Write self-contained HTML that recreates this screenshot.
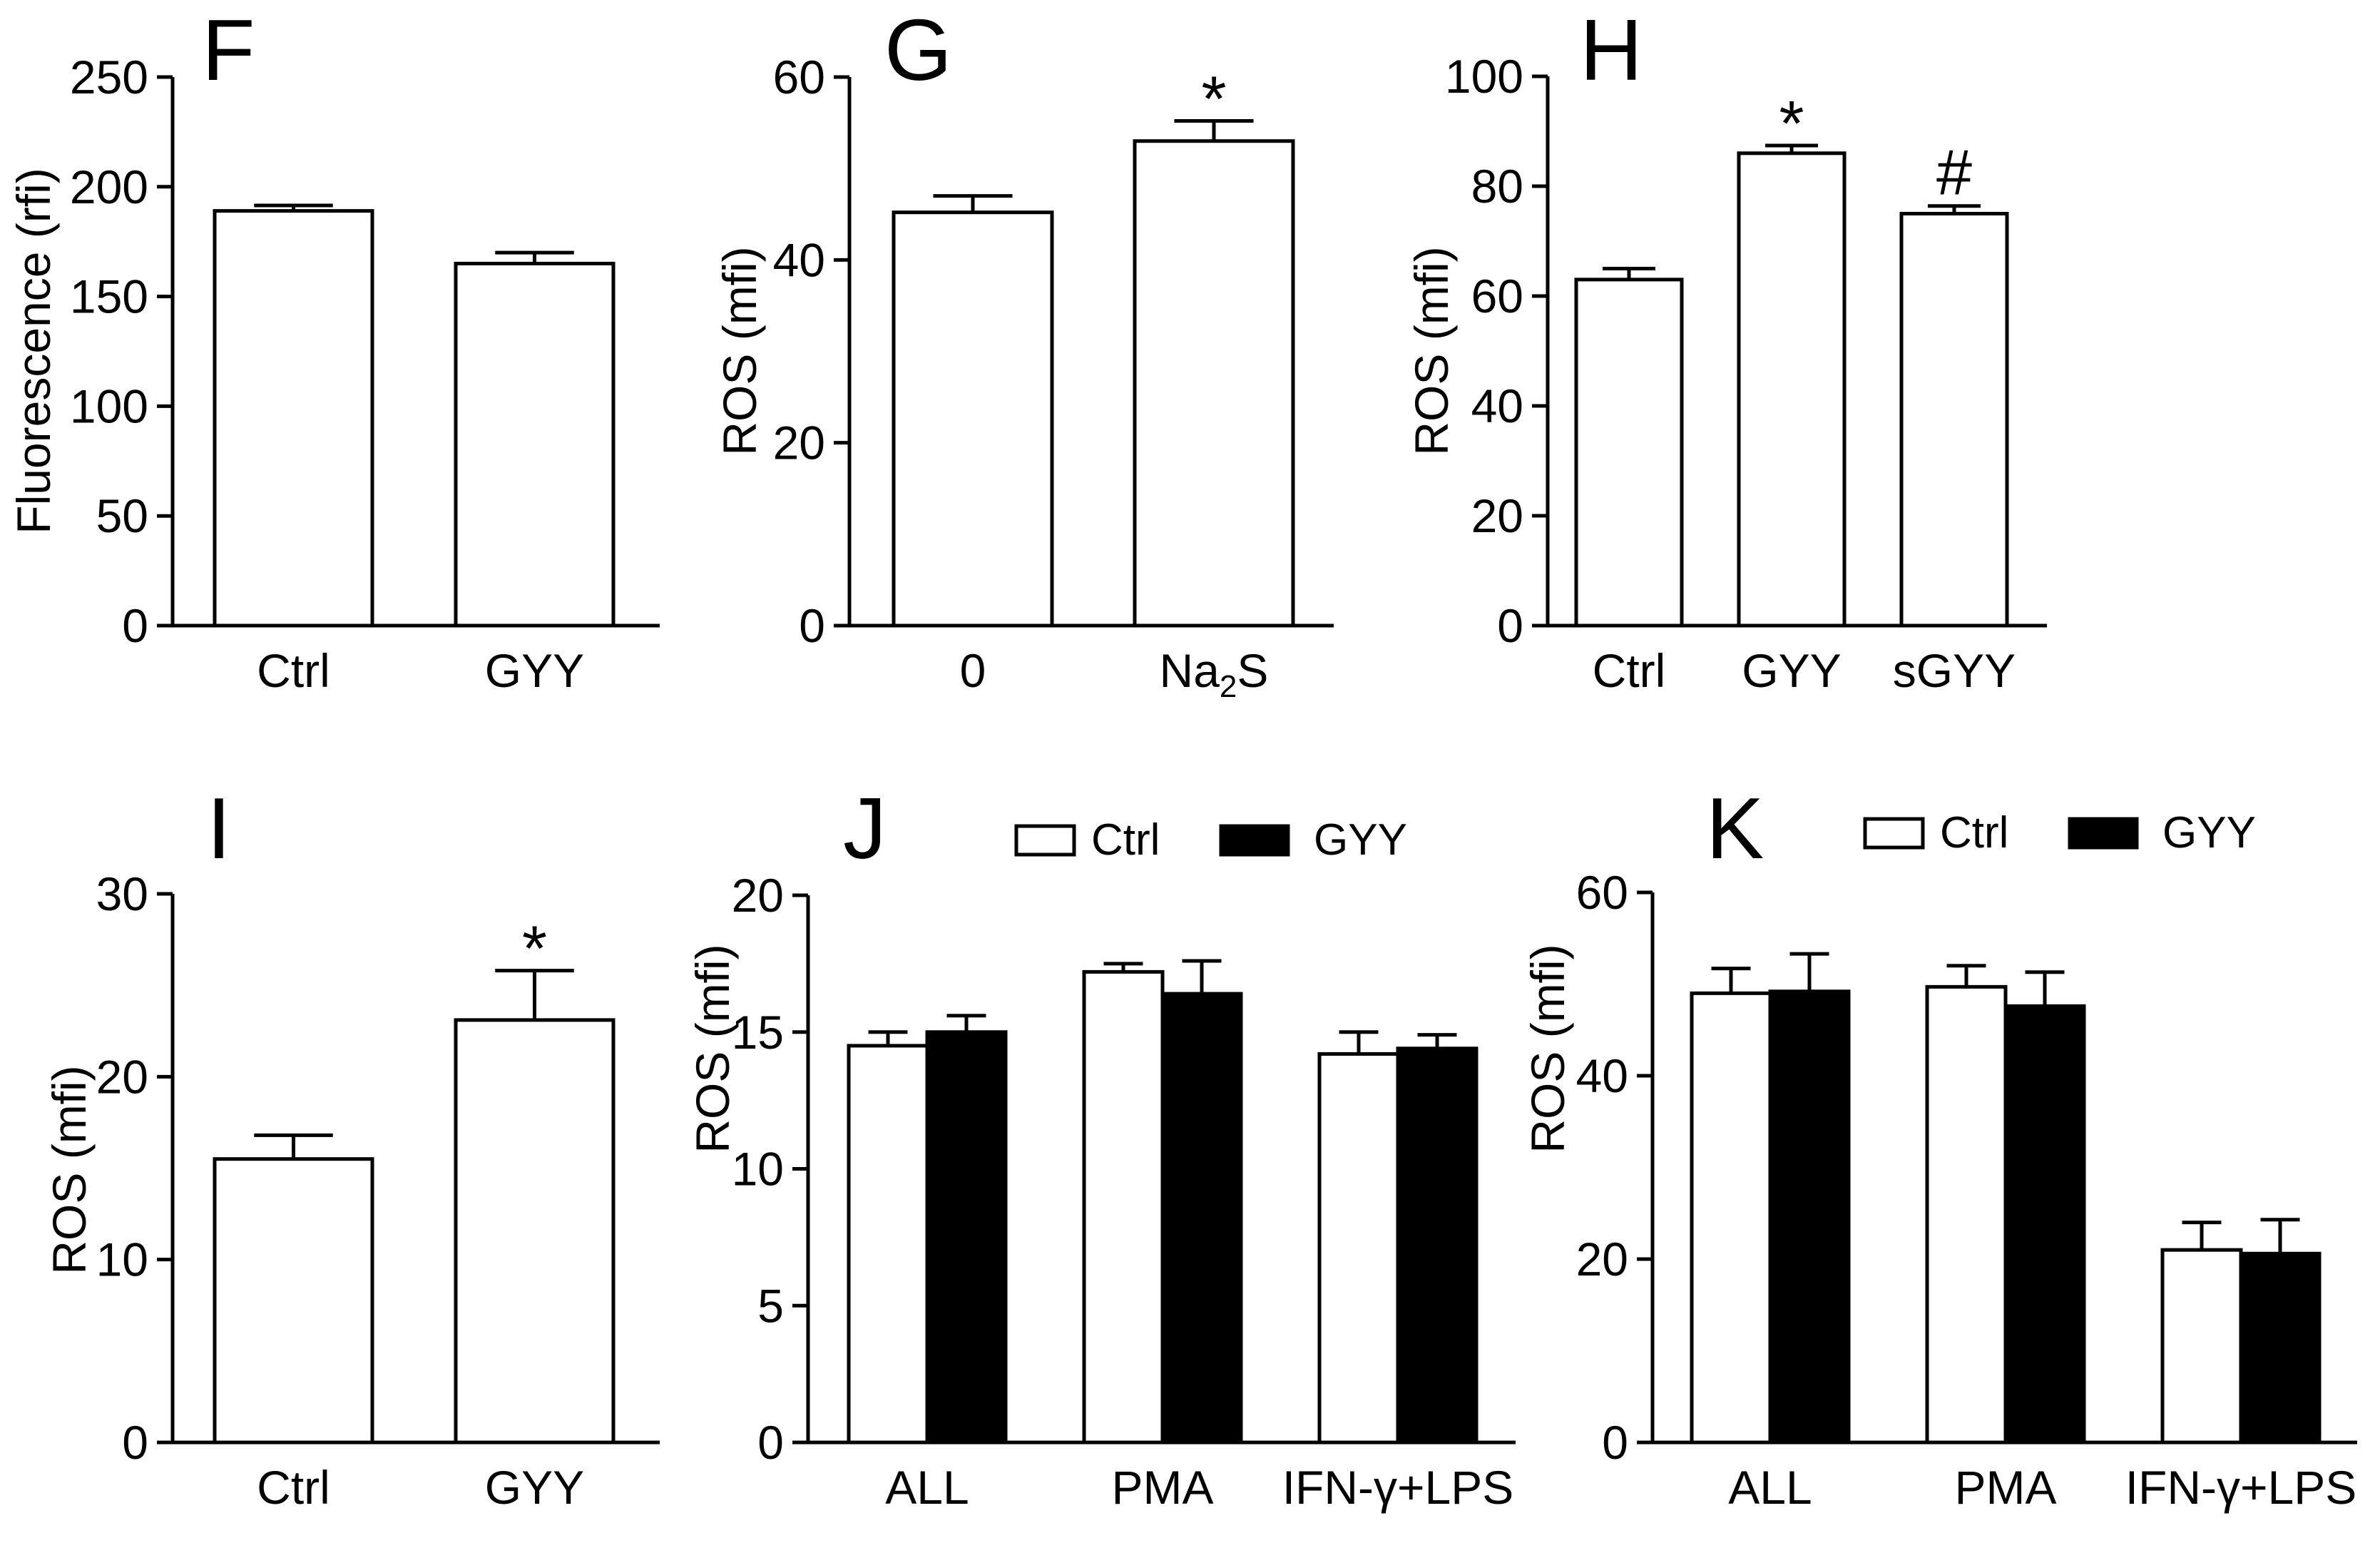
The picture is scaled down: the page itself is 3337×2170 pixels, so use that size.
<!DOCTYPE html>
<html><head><meta charset="utf-8"><style>
html,body{margin:0;padding:0;background:#fff;}
svg text{font-family:"Liberation Sans",Arial,sans-serif;fill:#000;}
</style></head><body>
<svg id="fig" xmlns="http://www.w3.org/2000/svg" width="3337" height="2165" viewBox="0 0 3337 2165"></svg>
<script>
// ---- data ----
const fCats = ["Ctrl","GYY"];
const fVals = [189,165];
const fErrs = [2.5,5];
const fTicks = [0,50,100,150,200,250];

const gCats = ["0","Na2S"];
const gVals = [45.2,53];
const gErrs = [1.8,2.2];
const gTicks = [0,20,40,60];

const hCats = ["Ctrl","GYY","sGYY"];
const hVals = [63,86,75];
const hErrs = [2,1.4,1.4];
const hTicks = [0,20,40,60,80,100];

const iCats = ["Ctrl","GYY"];
const iVals = [15.5,23.1];
const iErrs = [1.3,2.7];
const iTicks = [0,10,20,30];

const jCats = ["ALL","PMA","IFN-γ+LPS"];
const jCtrl = [14.5,17.2,14.2];
const jCtrlErr = [0.5,0.3,0.8];
const jGyy = [15,16.4,14.4];
const jGyyErr = [0.6,1.2,0.5];
const jTicks = [0,5,10,15,20];

const kCats = ["ALL","PMA","IFN-γ+LPS"];
const kCtrl = [49,49.7,21];
const kCtrlErr = [2.7,2.3,3];
const kGyy = [49.2,47.6,20.6];
const kGyyErr = [4.1,3.7,3.7];
const kTicks = [0,20,40,60];

const svg = document.getElementById('fig');
const NS = 'http://www.w3.org/2000/svg';
function mk(tag, attrs, parent){
  const e = document.createElementNS(NS, tag);
  for (const k in attrs) e.setAttribute(k, attrs[k]);
  (parent||svg).appendChild(e);
  return e;
}
const SW = 5;

function panel(o){
  const g = mk('g', {});
  
  
  const ymax = o.ticks[o.ticks.length-1];
  const y = v => o.y0 - (v/ymax)*(o.y0-o.y1);
  const ya = mk('line',{x1:o.ax,y1:o.y1,x2:o.ax,y2:o.y0,stroke:'#000','stroke-width':SW},g);
  
  
  const xa = mk('line',{x1:o.ax-22,y1:o.y0,x2:o.axEnd,y2:o.y0,stroke:'#000','stroke-width':SW},g);
  
  
  o.ticks.forEach(t=>{
    const tl = mk('line',{x1:o.ax-22,y1:y(t),x2:o.ax,y2:y(t),stroke:'#000','stroke-width':SW},g);
    
    
    const tx = mk('text',{x:o.ax-34,y:y(t)+23,'font-size':66,'text-anchor':'end'},g);
    tx.textContent = t;
    
    
  });
  o.series.forEach((s,si)=>{
    s.vals.forEach((v,i)=>{
      const bx = o.bx0 + i*o.step + si*o.bw;
      const r = mk('rect',{x:bx,y:y(v),width:o.bw,height:o.y0-y(v),fill:s.fill,stroke:'#000','stroke-width':SW},g);
      
      
      const cx = bx + o.bw/2, top = y(v+s.errs[i]);
      const e1 = mk('line',{x1:cx,y1:y(v),x2:cx,y2:top,stroke:'#000','stroke-width':SW},g);
      
      
      const e2 = mk('line',{x1:cx-o.bw/4,y1:top,x2:cx+o.bw/4,y2:top,stroke:'#000','stroke-width':SW},g);
      
      
    });
  });
  o.cats.forEach((c,i)=>{
    const cx = o.bx0 + i*o.step + o.series.length*o.bw/2;
    const t = mk('text',{x:cx,y:o.labY,'font-size':66,'text-anchor':'middle'},g);
    if (c === 'Na2S'){ t.innerHTML = 'Na<tspan font-size="44" dy="14">2</tspan><tspan dy="-14">S</tspan>'; }
    else t.textContent = c;
    
    
  });
  const yt = mk('text',{x:0,y:0,'font-size':66,'text-anchor':'middle',transform:`translate(${o.titleX},${o.titleY}) rotate(-90)`},g);
  yt.textContent = o.title;
  
  
  const pl = mk('text',{x:o.letterX,y:o.letterY,'font-size':122},g);
  pl.textContent = o.letter;
  
  
  (o.marks||[]).forEach(m=>{
    const mt = mk('text',{x:o.bx0+m.i*o.step+o.bw/2,y:y(o.series[0].vals[m.i]+o.series[0].errs[m.i])-m.off,'font-size':90,'text-anchor':'middle'},g);
    mt.textContent = m.t;
    
    
  });
  return g;
}

panel({name:'panel-f',letter:'F',letterX:283,letterY:112,ax:242,axEnd:925,y0:877,y1:108,ticks:fTicks,bx0:301,step:338,bw:221,
  cats:fCats,series:[{key:'value',vals:fVals,errs:fErrs,fill:'#fff'}],labY:963,title:'Fluorescence (rfi)',titleX:70,titleY:492});
panel({name:'panel-g',letter:'G',letterX:1240,letterY:112,ax:1191,axEnd:1870,y0:877,y1:108,ticks:gTicks,bx0:1253,step:338,bw:222,
  cats:gCats,series:[{key:'value',vals:gVals,errs:gErrs,fill:'#fff'}],labY:963,title:'ROS (mfi)',titleX:1060,titleY:492,
  marks:[{i:1,t:'*',off:0}]});
panel({name:'panel-h',letter:'H',letterX:2215,letterY:112,ax:2170,axEnd:2870,y0:877,y1:107,ticks:hTicks,bx0:2210,step:228,bw:148,
  cats:hCats,series:[{key:'value',vals:hVals,errs:hErrs,fill:'#fff'}],labY:963,title:'ROS (mfi)',titleX:2030,titleY:492,
  marks:[{i:1,t:'*',off:0},{i:2,t:'#',off:16}]});
panel({name:'panel-i',letter:'I',letterX:290,letterY:1203,ax:242,axEnd:925,y0:2022,y1:1253,ticks:iTicks,bx0:301,step:338,bw:221,
  cats:iCats,series:[{key:'value',vals:iVals,errs:iErrs,fill:'#fff'}],labY:2108,title:'ROS (mfi)',titleX:120,titleY:1640,
  marks:[{i:1,t:'*',off:0}]});
panel({name:'panel-j',letter:'J',letterX:1182,letterY:1203,ax:1133,axEnd:2125,y0:2022,y1:1255,ticks:jTicks,bx0:1190,step:330,bw:110,
  cats:jCats,series:[{key:'ctrl',vals:jCtrl,errs:jCtrlErr,fill:'#fff'},{key:'gyy',vals:jGyy,errs:jGyyErr,fill:'#000'}],labY:2108,title:'ROS (mfi)',titleX:1022,titleY:1470});
panel({name:'panel-k',letter:'K',letterX:2392,letterY:1203,ax:2317,axEnd:3305,y0:2022,y1:1251,ticks:kTicks,bx0:2372,step:330,bw:110,
  cats:kCats,series:[{key:'ctrl',vals:kCtrl,errs:kCtrlErr,fill:'#fff'},{key:'gyy',vals:kGyy,errs:kGyyErr,fill:'#000'}],labY:2108,title:'ROS (mfi)',titleX:2193,titleY:1470});

function legend(x, yTop, name){
  const g = mk('g',{});
  
  
  mk('rect',{x:x,y:yTop,width:81,height:40,fill:'#fff',stroke:'#000','stroke-width':SW},g);
  const t1 = mk('text',{x:x+105,y:yTop+40,'font-size':62},g);
  t1.textContent='Ctrl';
  
  
  mk('rect',{x:x+287,y:yTop,width:94,height:40,fill:'#000',stroke:'#000','stroke-width':SW},g);
  const t2 = mk('text',{x:x+417,y:yTop+40,'font-size':62},g);
  t2.textContent='GYY';
  
  
}
legend(1425,1158,'legend-j');
legend(2615,1148,'legend-k');
</script>
</body></html>
